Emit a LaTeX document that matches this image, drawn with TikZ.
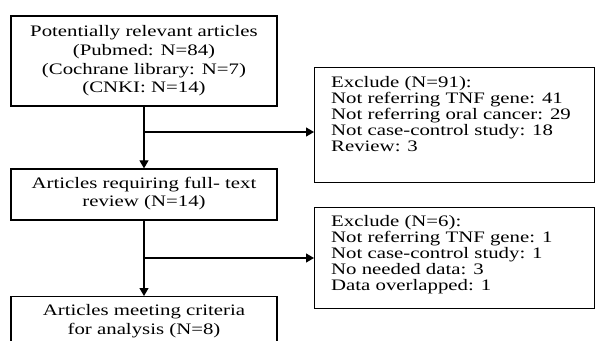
\documentclass[tikz,border=0pt]{standalone}
\usepackage{fontspec}
\setmainfont[FakeStretch=1.3]{Liberation Serif}
\usetikzlibrary{arrows.meta}
\begin{document}
\begin{tikzpicture}[x=1pt,y=1pt,
  box/.style={draw, line width=1.3pt, inner sep=0pt},
  ctext/.style={font=\fontsize{16}{18.7}\selectfont, align=center, inner sep=0pt},
  ltext/.style={font=\fontsize{16}{16}\selectfont, align=left, inner sep=0pt, anchor=north west},
  arr/.style={line width=1.2pt, -{Triangle[length=8pt,width=9pt]}}]
\useasboundingbox (0,0) rectangle (596,-340);
\clip (0,0) rectangle (596,-340);
% main column
\node[box, minimum width=266, minimum height=90] (b1) at (144,-61) {};
\node[ctext] (t1) at (144,-61) {Potentially relevant articles\\(Pubmed: N=84)\\(Cochrane library: N=7)\\(CNKI: N=14)};
\node[box, minimum width=266, minimum height=51] (b2) at (144,-194.5) {};
\node[ctext] (t2) at (144,-193.5) {Articles requiring full- text\\review (N=14)};
\node[box, minimum width=266, minimum height=70, anchor=north] (b4) at (144,-296) {};
\node[ctext] (t4) at (144,-321.5) {Articles meeting criteria\\for analysis (N=8)};
% exclusion boxes
\node[box, minimum width=280, minimum height=115, anchor=north west] (b3) at (314,-67) {};
\node[ltext] (t3) at (331,-76) {Exclude (N=91):\\Not referring TNF gene: 41\\Not referring oral cancer: 29\\Not case-control study: 18\\Review: 3};
\node[box, minimum width=280, minimum height=101, anchor=north west] (b5) at (314,-207) {};
\node[ltext] (t5) at (331,-215.5) {Exclude (N=6):\\Not referring TNF gene: 1\\Not case-control study: 1\\No needed data: 3\\Data overlapped: 1};
% connectors
\coordinate (j1) at (144,-132);
\coordinate (j2) at (144,-258);
\draw[arr] (b1.south) -- (b2.north);
\draw[arr] (j1) -- (j1 -| b3.west);
\draw[arr] (b2.south) -- (b4.north);
\draw[arr] (j2) -- (j2 -| b5.west);
\end{tikzpicture}
\end{document}
